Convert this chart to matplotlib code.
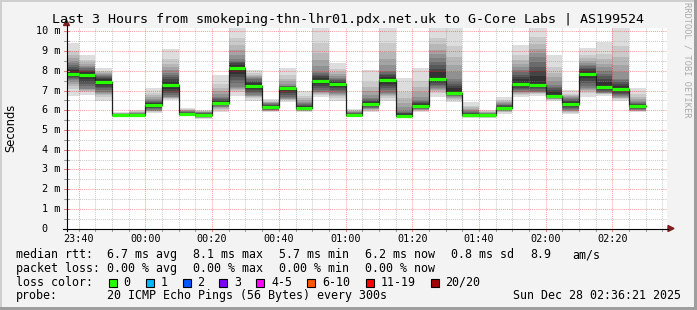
import matplotlib
matplotlib.use('Agg')
import matplotlib.pyplot as plt
import numpy as np
from matplotlib.patches import Rectangle, Polygon
from matplotlib.lines import Line2D

# ---------------- data (minutes relative to 23:40, one sample per 5 min) ----------------
bar_minutes = np.arange(-5, 170, 5)          # 23:35 ... 02:25 sample starts
median_ms = [7.84, 7.79, 7.45, 5.76, 5.76, 6.27, 7.28, 5.81, 5.76, 6.37,
             8.16, 7.25, 6.18, 7.15, 6.13, 7.49, 7.35, 5.76, 6.32, 7.55,
             5.73, 6.23, 7.60, 6.88, 5.76, 5.76, 6.13, 7.35, 7.28, 6.74,
             6.33, 7.86, 7.18, 7.08, 6.23]
smoke_min = [6.74, 6.78, 6.49, 5.69, 5.66, 5.86, 6.50, 5.69, 5.56, 5.90,
             6.74, 6.47, 5.90, 6.44, 5.90, 6.69, 6.47, 5.68, 5.90, 6.47,
             5.64, 5.90, 6.69, 6.40, 5.62, 5.59, 5.83, 6.69, 6.74, 6.47,
             5.80, 6.69, 6.74, 6.47, 5.90]
smoke_q1 = [7.54, 7.10, 6.94, 5.72, 5.70, 6.00, 6.69, 5.75, 5.65, 6.18,
            7.20, 6.78, 6.00, 6.60, 6.00, 6.94, 6.90, 5.72, 6.10, 6.90,
            5.70, 6.05, 7.13, 6.70, 5.68, 5.68, 6.00, 6.94, 6.94, 6.60,
            6.00, 7.13, 6.90, 6.70, 6.00]
smoke_q3 = [8.40, 8.20, 7.80, 5.82, 5.85, 6.52, 7.88, 5.95, 5.90, 6.69,
            8.60, 7.64, 6.35, 7.25, 6.35, 7.96, 7.64, 5.90, 6.60, 8.00,
            5.95, 6.50, 8.65, 7.60, 5.95, 5.85, 6.30, 8.05, 8.70, 7.30,
            6.60, 8.30, 8.00, 7.60, 6.40]
smoke_max = [9.43, 8.80, 8.16, 5.90, 6.00, 7.15, 9.11, 6.13, 6.03, 7.79,
             10.40, 8.05, 6.57, 8.13, 7.00, 10.40, 8.42, 6.07, 8.05, 10.40,
             7.62, 8.16, 10.40, 10.40, 6.44, 6.02, 6.69, 9.31, 10.40, 8.81,
             7.02, 9.18, 9.48, 10.40, 7.15]

x_tick_pos = [0, 20, 40, 60, 80, 100, 120, 140, 160]
x_tick_labels = ['23:40', '00:00', '00:20', '00:40', '01:00', '01:20', '01:40', '02:00', '02:20']
y_tick_pos = list(range(0, 11))
y_tick_labels = ['0'] + ['%d m' % v for v in range(1, 11)]

title = 'Last 3 Hours from smokeping-thn-lhr01.pdx.net.uk to G-Core Labs | AS199524'
loss_labels = ['0', '1', '2', '3', '4-5', '6-10', '11-19', '20/20']
loss_colors = ['#26ff00', '#00b8ff', '#0059ff', '#7e00ff', '#ff00ff', '#ff5500', '#ff0000', '#a10000']

# ---------------- figure ----------------
W, H = 697, 310
fig = plt.figure(figsize=(W / 100, H / 100), dpi=100)
fig.patch.set_facecolor('#f3f3f3')


def fx(x):
    return x / W


def fy(y):
    return 1 - y / H


MONO = 'DejaVu Sans Mono'
X0, X1, YB, YT = 66.5, 667, 228.5, 27.7
ax = fig.add_axes([fx(X0), fy(YB), (X1 - X0) / W, (YB - YT) / H])
ax.set_facecolor('white')
ax.set_xlim(-3.65, 176.35)
ax.set_ylim(0, 10.19)
for s in ax.spines.values():
    s.set_visible(False)
ax.set_xticks([])
ax.set_yticks([])

# smoke: nested bands from outer (min/max) to inner (around median), smokeping grey ramp
mn = np.array(smoke_min); q1 = np.array(smoke_q1); q3 = np.array(smoke_q3)
mx = np.array(smoke_max); md = np.array(median_ms)
nb = 10
for k in range(nb):
    if k < 5:
        f = (k / 5) ** 0.55
        lo = mn + (q1 - mn) * f
        hi = mx + (q3 - mx) * f
    else:
        f = (k - 5) / 5 * 0.85
        lo = q1 + (md - q1) * f
        hi = q3 + (md - q3) * f
    g = (221 - 19 * k) / 255
    ax.bar(bar_minutes, hi - lo, bottom=lo, width=5, align='edge',
           color=(g, g, g), linewidth=0, zorder=1)

# grid (drawn over the smoke, like rrdtool)
for m in np.arange(0, 180, 5):
    major = (m % 20 == 0)
    ax.axvline(m, color='#ff0000' if major else '#909090', alpha=0.38 if major else 0.45,
               lw=0.75, ls=(0, (1, 1)), zorder=3)
for v in np.arange(0.5, 10.2, 0.5):
    major = (abs(v - round(v)) < 1e-6)
    ax.axhline(v, color='#ff0000' if major else '#909090', alpha=0.38 if major else 0.45,
               lw=0.75, ls=(0, (1, 1)), zorder=3)

# median line
edges = np.append(bar_minutes, bar_minutes[-1] + 5)
ax.step(edges, np.append(md, md[-1]), where='post', color='#202020', lw=0.9, zorder=4)
ax.hlines(md, bar_minutes, bar_minutes + 5, color=loss_colors[0], lw=2.3, zorder=5)

# tick labels
for pos, lab in zip(x_tick_pos, x_tick_labels):
    px = ax.transData.transform((pos, 0))[0]
    fig.text(px / W, fy(241.7), lab, ha='center', va='baseline', fontsize=7.3, family=MONO)
for pos, lab in zip(y_tick_pos, y_tick_labels):
    py = H - ax.transData.transform((0, pos))[1]
    xr = 60.5 if lab != '0' else 47.5
    fig.text(xr / W, fy(py), lab, ha='right', va='center', fontsize=7.3, family=MONO)

# tick marks and axes (figure pixel coords)
lines = []
for m in np.arange(0, 180, 5):
    px = ax.transData.transform((m, 0))[0]
    col = '#e08080' if m % 20 == 0 else '#a0a0a0'
    lines.append(Line2D([fx(px), fx(px)], [fy(YB), fy(YB + 2.5)], color=col, lw=0.75))
for v in np.arange(0, 10.2, 0.5):
    py = H - ax.transData.transform((0, v))[1]
    col = '#e08080' if abs(v - round(v)) < 1e-6 else '#a0a0a0'
    lines.append(Line2D([fx(X0 - 2.5), fx(X0 + 2.5)], [fy(py), fy(py)], color=col, lw=0.75))
lines.append(Line2D([fx(X0), fx(X0)], [fy(YB + 2), fy(25)], color='black', lw=0.8))
lines.append(Line2D([fx(63), fx(668)], [fy(YB), fy(YB)], color='black', lw=0.8))
for l in lines:
    fig.add_artist(l)
fig.add_artist(Polygon([(fx(63.5), fy(25.5)), (fx(69.5), fy(25.5)), (fx(66.5), fy(20))],
                       closed=True, color='#7f1f1f', transform=fig.transFigure))
fig.add_artist(Polygon([(fx(668), fy(225.5)), (fx(668), fy(231.5)), (fx(674), fy(228.5))],
                       closed=True, color='#7f1f1f', transform=fig.transFigure))

# title, y label, watermark
fig.text(fx(347.5), fy(23.3), title, ha='center', va='baseline', fontsize=9.6, family=MONO)
fig.text(fx(11), fy(128), 'Seconds', rotation=90, ha='center', va='center', fontsize=8.3,
         family='DejaVu Sans')
fig.text(fx(687), fy(60), 'RRDTOOL / TOBI OETIKER', rotation=270, ha='center', va='center',
         fontsize=6.2, family=MONO, color='#aaaaaa')

# legend rows
LF = 8.4
rows = [
    (258.0, [(16, 'median rtt:'), (107.3, '6.7 ms avg'), (193.3, '8.1 ms max'),
             (279.3, '5.7 ms min'), (365, '6.2 ms now'), (451, '0.8 ms sd'),
             (530, '8.9'), (572.3, 'am/s')]),
    (271.7, [(16, 'packet loss:'), (107.3, '0.00 % avg'), (193.3, '0.00 % max'),
             (279.3, '0.00 % min'), (365, '0.00 % now')]),
    (285.5, [(16, 'loss color:')]),
    (299.2, [(16, 'probe:'), (107.3, '20 ICMP Echo Pings (56 Bytes) every 300s'),
             (513.3, 'Sun Dec 28 02:36:21 2025')]),
]
for yb, items in rows:
    for x, s in items:
        fig.text(fx(x), fy(yb), s, ha='left', va='baseline', fontsize=LF, family=MONO)

box_x = [108.7, 145.7, 182.7, 219.3, 256.3, 307.3, 365.7, 430.7]
for bx, col, lab in zip(box_x, loss_colors, loss_labels):
    fig.add_artist(Rectangle((fx(bx), fy(287)), 8 / W, 8 / H, transform=fig.transFigure,
                             facecolor=col, edgecolor='black', lw=0.8))
    fig.text(fx(bx + 14.7), fy(285.5), lab, ha='left', va='baseline', fontsize=LF, family=MONO)

# frame (rrdtool shade)
fig.add_artist(Rectangle((0, fy(2)), 1, 2 / H, transform=fig.transFigure, color='#cfcfcf', lw=0))
fig.add_artist(Rectangle((0, 0), 2 / W, 1, transform=fig.transFigure, color='#cfcfcf', lw=0))
fig.add_artist(Rectangle((0, 0), 1, 3 / H, transform=fig.transFigure, color='#9e9e9e', lw=0))
fig.add_artist(Rectangle((fx(694), 0), 3 / W, 1, transform=fig.transFigure, color='#9e9e9e', lw=0))

fig.savefig('out.png', dpi=100, facecolor=fig.get_facecolor())
